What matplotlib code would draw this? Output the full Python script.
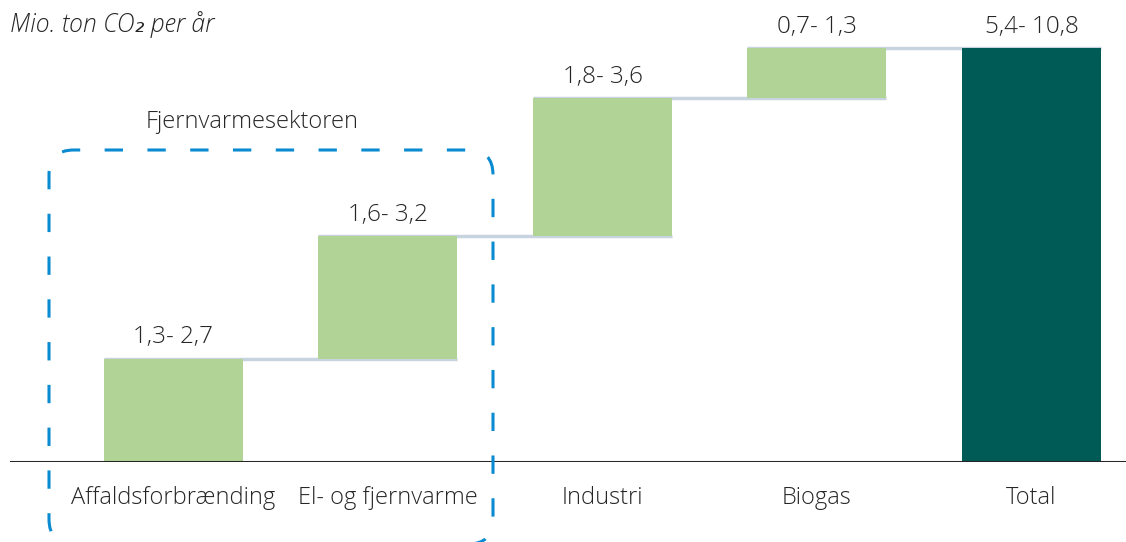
import matplotlib
matplotlib.use("Agg")
import matplotlib.pyplot as plt
from matplotlib.patches import FancyBboxPatch

categories = ["Affaldsforbrænding", "El- og fjernvarme", "Industri", "Biogas", "Total"]
values = [2.7, 3.2, 3.6, 1.3, 10.8]
labels = ["1,3- 2,7", "1,6- 3,2", "1,8- 3,6", "0,7- 1,3", "5,4- 10,8"]

plt.rcParams['font.family'] = ['Open Sans', 'DejaVu Sans']

W, H = 1126, 542
fig = plt.figure(figsize=(W / 100, H / 100), dpi=100)
ax = fig.add_axes([10 / W, (H - 462) / H, (W - 10) / W, 462 / H])
ppu = 414 / 10.8
ax.set_ylim(0, 462 / ppu)
sp = 214.5
ax.set_xlim(-(173.5 - 10) / sp, (1126 - 173.5) / sp)
ax.axis('off')

green = "#b1d496"
dark = "#005a55"
width = 139 / sp
tc = "#262626"

bottoms = []
cum = 0
for i, v in enumerate(values[:-1]):
    bottoms.append(cum)
    cum += v
bottoms.append(0)

for i, (v, b) in enumerate(zip(values, bottoms)):
    col = dark if i == len(values) - 1 else green
    ax.bar(i, v, width=width, bottom=b, color=col, zorder=3)
    ax.text(i, b + v + 9 / ppu, labels[i], ha='center', va='bottom', fontsize=17.5,
            color=tc, fontweight='light')

# connectors
for i in range(len(values) - 1):
    top = bottoms[i] + values[i]
    ax.plot([i - width / 2, i + 1 + width / 2], [top, top], color="#c8d3e0", lw=2.5,
            zorder=2, solid_capstyle='butt')

ax.axhline(0, color=tc, lw=2.2, zorder=4)

for i, c in enumerate(categories):
    fig.text((173.5 + i * sp) / W, 1 - 498 / H, c, ha='center', va='center', fontsize=17,
             color=tc, fontweight='light')

fig.text(10 / W, 1 - 25 / H, "Mio. ton CO₂ per år", ha='left', va='center', fontsize=17.8,
         style='italic', color=tc, fontweight='light')

# dashed rounded box
box = FancyBboxPatch((49 / W, 1 - 544 / H), (493 - 49) / W, (544 - 150) / H,
                     boxstyle="round,pad=0,rounding_size=0.022", transform=fig.transFigure,
                     fill=False, edgecolor="#0a8ad0", lw=2.2, linestyle=(0, (6, 8)), zorder=5,
                     mutation_aspect=W / H)
fig.patches.append(box)
fig.text(252 / W, 1 - 122 / H, "Fjernvarmesektoren", ha='center', va='center', fontsize=17,
         color=tc, fontweight='light')

fig.savefig("out.png", dpi=100)
